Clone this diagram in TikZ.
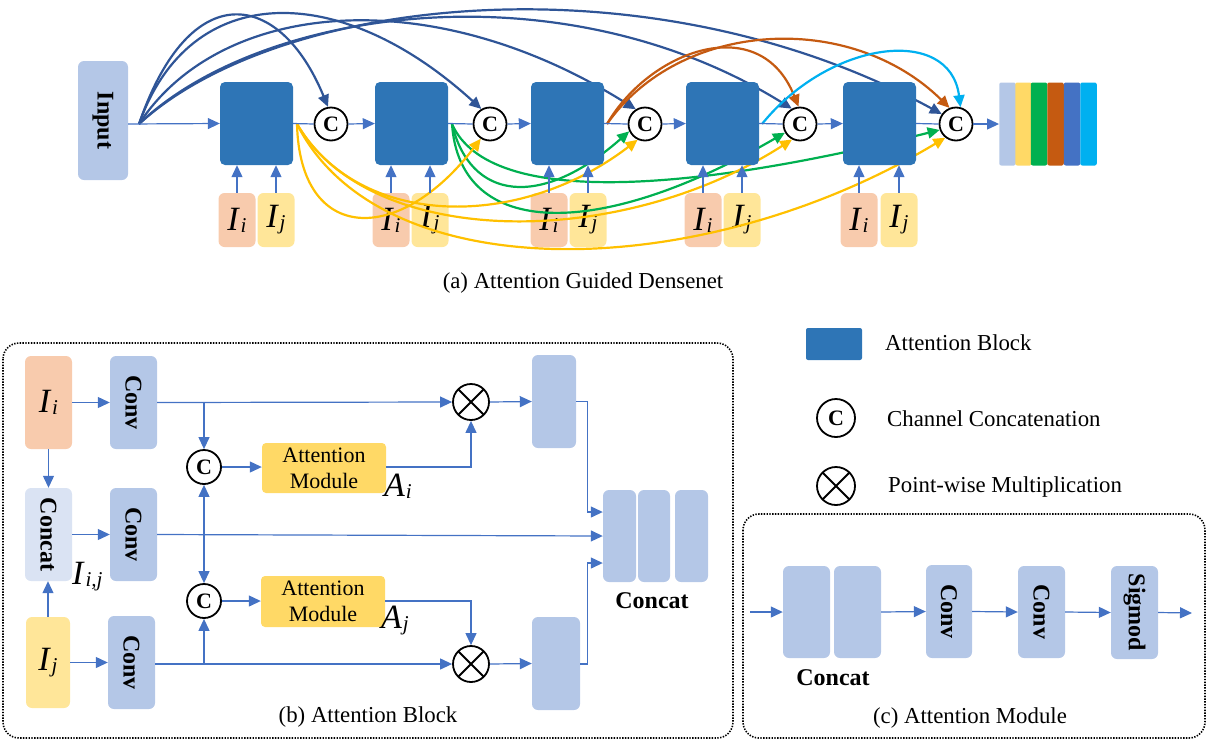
\documentclass[tikz,border=0pt]{standalone}
\usepackage{fontspec}
\usepackage{graphicx}
\setmainfont{Liberation Serif}
\usetikzlibrary{arrows.meta,calc}
\definecolor{blk}{HTML}{2E75B6}
\definecolor{lb}{HTML}{B4C7E7}
\definecolor{sal}{HTML}{F8CBAD}
\definecolor{ylw}{HTML}{FFE699}
\definecolor{gold}{HTML}{FFD966}
\definecolor{cb}{HTML}{DAE3F3}
\definecolor{ln}{HTML}{4472C4}
\definecolor{dkb}{HTML}{2F5597}
\definecolor{brn}{HTML}{C55A11}
\definecolor{grn}{HTML}{00B050}
\definecolor{cyn}{HTML}{00B0F0}
\definecolor{org}{HTML}{FFC000}
\newcommand{\Isb}[2]{\textit{#1}\kern0.02em\raisebox{-0.06em}{\scalebox{0.62}{\textit{#2}}}}
\begin{document}
\begin{tikzpicture}[x=1pt,y=-1pt,
  fbox/.style={rectangle, rounded corners=6pt, inner sep=0pt, draw=none},
  abk/.style={fbox, fill=blk, rounded corners=5pt, minimum width=73pt, minimum height=83pt},
  ibox/.style={fbox, fill=sal, minimum width=37pt, minimum height=54pt, font=\fontsize{34}{34}\selectfont},
  jbox/.style={fbox, fill=ylw, minimum width=37pt, minimum height=54pt, font=\fontsize{34}{34}\selectfont},
  ccirc/.style={circle, draw=black, line width=1.8pt, fill=white, minimum size=33pt, inner sep=0pt, font=\fontsize{22}{22}\selectfont\bfseries},
  mcirc/.style={circle, draw=black, line width=1.8pt, fill=white, minimum size=36pt, inner sep=0pt, path picture={\draw[black, line width=1.8pt] (path picture bounding box.north west) -- (path picture bounding box.south east) (path picture bounding box.north east) -- (path picture bounding box.south west);}},
  ar/.style={draw=ln, line width=1.2pt, -{Triangle[length=12pt,width=11pt]}},
  bline/.style={draw=ln, line width=1.2pt},
  cur/.style={line width=2.2pt, -{Triangle[length=12pt,width=11pt]}},
  boldlbl/.style={font=\fontsize{24}{24}\selectfont\bfseries},
  captxt/.style={font=\fontsize{22.8}{26}\selectfont},
  lbl/.style={font=\fontsize{34}{34}\selectfont, inner sep=0pt},
  amod/.style={fbox, fill=gold, rounded corners=4pt, minimum width=124pt, minimum height=50pt, align=center, font=\fontsize{22}{26}\selectfont},
  dotbox/.style={draw=black, line width=1.6pt, dash pattern=on 1.4pt off 1.4pt, rounded corners=16pt}
]
\useasboundingbox (0,0) rectangle (1207,745);

% ---------------- (a) ----------------
\node[fbox, fill=lb, minimum width=50pt, minimum height=119pt] (in) at (103,120.5) {\rotatebox{-90}{\fontsize{24}{24}\selectfont\bfseries Input}};

\foreach \n/\xi/\xj in {1/237/276, 2/391/430, 3/549/588, 4/703/742, 5/859/899}{
  \node[ibox] (i\n) at (\xi,220) {\Isb{I}{i}};
  \node[jbox] (j\n) at (\xj,220) {\Isb{I}{j}};
}

\coordinate (src) at (139,124);
\coordinate (o1) at (297,124);
\coordinate (o2) at (452,124);
\coordinate (o3) at (607,124);
\coordinate (o4) at (762,124);

\node[ccirc] (c1) at (331,124) {C};
\node[ccirc] (c2) at (490,124) {C};
\node[ccirc] (c3) at (645,124) {C};
\node[ccirc] (c4) at (800,124) {C};
\node[ccirc] (c5) at (956,124) {C};

% curves
\draw[cur, dkb] (src) .. controls (190,-25) and (280,-10) .. (c1.100);
\draw[cur, dkb] (src) .. controls (190,-20) and (340,-20) .. (c2.120);
\draw[cur, dkb] (src) .. controls (220,0) and (430,-20) .. (c3.122);
\draw[cur, dkb] (src) .. controls (260,8) and (560,-35) .. (c4.118);
\draw[cur, dkb] (src) .. controls (280,-5) and (650,-45) .. (c5.145);

\draw[cur, brn] (o3) .. controls (650,50) and (760,10) .. (c4.95);
\draw[cur, brn] (o3) .. controls (680,20) and (850,10) .. (c5.112);
\draw[cur, cyn] (o4) .. controls (830,40) and (950,25) .. (c5.75);

\draw[cur, grn] (o2) .. controls (470,200) and (540,210) .. (c3.205);
\draw[cur, grn] (o2) .. controls (460,240) and (600,240) .. (c4.210);
\draw[cur, grn] (o2) .. controls (490,210) and (700,190) .. (c5.200);

\draw[cur, org] (o1) .. controls (300,245) and (400,245) .. (c2.238);
\draw[cur, org] (o1) .. controls (360,230) and (520,230) .. (c3.245);
\draw[cur, org] (o1) .. controls (370,250) and (620,250) .. (c4.243);
\draw[cur, org] (o1) .. controls (380,290) and (700,285) .. (c5.232);

% blocks
\node[abk] (b1) at (256.5,123.5) {};
\node[abk] (b2) at (411.5,123.5) {};
\node[abk] (b3) at (567.5,123.5) {};
\node[abk] (b4) at (722.5,123.5) {};
\node[abk] (b5) at (879.5,123.5) {};

\foreach \n in {1,...,5}{
  \draw[ar] (i\n.north) -- (i\n.north |- b\n.south);
  \draw[ar] (j\n.north) -- (j\n.north |- b\n.south);
}

\draw[ar] (in.east |- src) -- (b1.west);
\draw[bline] (b1.east) -- (c1.west);
\draw[ar] (c1.east) -- (b2.west);
\draw[bline] (b2.east) -- (c2.west);
\draw[ar] (c2.east) -- (b3.west);
\draw[bline] (b3.east) -- (c3.west);
\draw[ar] (c3.east) -- (b4.west);
\draw[bline] (b4.east) -- (c4.west);
\draw[ar] (c4.east) -- (b5.west);
\draw[bline] (b5.east) -- (c5.west);

% output stack
\foreach \k/\xx/\cc in {1/1007.5/lb, 2/1023.5/gold, 3/1039/grn, 4/1055.5/brn, 5/1072/ln, 6/1088.5/cyn}{
  \node[fbox, rounded corners=2pt, fill=\cc, minimum width=16.5pt, minimum height=83pt] (s\k) at (\xx,124) {};
}
\draw[ar] (c5.east) -- (s1.west);

\node[captxt] (capa) at (583,283) {(a) Attention Guided Densenet};

% ---------------- (b) ----------------
\draw[dotbox] (3,343) rectangle (733,738);
\node[fbox, fill=sal, minimum width=47pt, minimum height=93pt, lbl] (bi) at (48.5,402.5) {\Isb{I}{i}};
\node[fbox, fill=cb, minimum width=47pt, minimum height=93pt] (bcat) at (48.5,534.5) {\rotatebox{-90}{\fontsize{24}{24}\selectfont\bfseries Concat}};
\node[fbox, fill=ylw, minimum width=44pt, minimum height=91pt, lbl] (bj) at (48,662.5) {\Isb{I}{j}};
\node[lbl, anchor=west] (lij) at (72,577) {\Isb{I}{i,j}};

\node[fbox, fill=lb, minimum width=47pt, minimum height=93pt] (cv1) at (133.5,402.5) {\rotatebox{-90}{\fontsize{24}{24}\selectfont\bfseries Conv}};
\node[fbox, fill=lb, minimum width=47pt, minimum height=93pt] (cv2) at (133.5,534.5) {\rotatebox{-90}{\fontsize{24}{24}\selectfont\bfseries Conv}};
\node[fbox, fill=lb, minimum width=47pt, minimum height=93pt] (cv3) at (131.5,662.5) {\rotatebox{-90}{\fontsize{24}{24}\selectfont\bfseries Conv}};

\node[ccirc, minimum size=34pt] (cc1) at (204,467) {C};
\node[ccirc, minimum size=34pt] (cc2) at (204,601) {C};
\node[amod] (am1) at (324,468) {Attention\\Module};
\node[amod, minimum height=51pt] (am2) at (323,601.5) {Attention\\Module};
\node[lbl, anchor=north west] (lai) at (384,474) {\Isb{A}{i}};
\node[lbl, anchor=north west] (laj) at (381,606) {\Isb{A}{j}};

\node[mcirc] (m1) at (471,402) {};
\node[mcirc] (m2) at (471,664) {};
\node[fbox, fill=lb, minimum width=44pt, minimum height=93pt] (f1) at (554,401.5) {};
\node[fbox, fill=lb, minimum width=48pt, minimum height=93pt] (f2) at (556,663.5) {};
\node[fbox, fill=lb, minimum width=33pt, minimum height=92pt] (k1) at (619.5,536) {};
\node[fbox, fill=lb, minimum width=32pt, minimum height=92pt] (k2) at (654,536) {};
\node[fbox, fill=lb, minimum width=33pt, minimum height=92pt] (k3) at (691.5,536) {};
\node[boldlbl] (lcat) at (652,601) {Concat};

\draw[ar] (bi.east) -- (cv1.west);
\draw[ar] (bi.south) -- (bcat.north);
\draw[ar] (bj.north) -- (bj.north |- bcat.south);
\draw[ar] (bcat.east) -- (cv2.west);
\draw[ar] (bj.east) -- (bj.east -| cv3.west);
\draw[ar] (cv1.east) -- (m1.west);
\draw[ar] (cv1.east -| cc1) -- (cc1.north);
\draw[ar] (cc1.east) -- (am1.west |- cc1);
\draw[ar] (am1.east |- cc1) -| (m1.south);
\draw[ar] (m1.east) -- (f1.west);
\draw[ar] (f1.east) -- ++(11,0) |- ($(k1.west)+(0,-24)$);
\draw[ar] (cv2.east) -- (k1.west);
\draw[bline, {Triangle[length=12pt,width=11pt]}-{Triangle[length=12pt,width=11pt]}] (cc1.south) -- (cc2.north);
\draw[ar] (cv3.east |- m2) -- (m2.west);
\draw[ar] (cc2 |- m2) -- (cc2.south);
\draw[ar] (cc2.east) -- (am2.west |- cc2);
\draw[ar] (am2.east |- cc2) -| (m2.north);
\draw[ar] (m2.east) -- (f2.west);
\draw[ar] (f2.east |- m2) -- ++(7,0) |- ($(k1.west)+(0,27)$);

\node[captxt] (capb) at (368,717) {(b) Attention Block};

% ---------------- legend ----------------
\node[fbox, fill=blk, rounded corners=2pt, minimum width=56pt, minimum height=32pt] (lg1) at (834,344) {};
\node[captxt, anchor=west, inner sep=0pt] (lt1) at (885,343) {Attention Block};
\node[ccirc, minimum size=38pt] (lg2) at (836,418) {C};
\node[captxt, anchor=west, inner sep=0pt] (lt2) at (887,419) {Channel Concatenation};
\node[mcirc, minimum size=38pt] (lg3) at (836,486) {};
\node[captxt, anchor=west, inner sep=0pt] (lt3) at (888,487) {Point-wise Multiplication};

% ---------------- (c) ----------------
\draw[dotbox] (743,514) rectangle (1205,738);
\node[fbox, fill=lb, minimum width=47pt, minimum height=92pt] (p1) at (806.5,612) {};
\node[fbox, fill=lb, minimum width=47pt, minimum height=92pt] (p2) at (857.5,612) {};
\node[boldlbl] (lcat2) at (833,678) {Concat};
\node[fbox, fill=lb, minimum width=46pt, minimum height=93pt] (cv4) at (949,611.5) {\rotatebox{-90}{\fontsize{24}{24}\selectfont\bfseries Conv}};
\node[fbox, fill=lb, minimum width=47pt, minimum height=92pt] (cv5) at (1041.5,612) {\rotatebox{-90}{\fontsize{24}{24}\selectfont\bfseries Conv}};
\node[fbox, fill=lb, minimum width=47pt, minimum height=93pt] (sg) at (1134.5,612.5) {\rotatebox{-90}{\fontsize{24}{24}\selectfont\bfseries Sigmod}};
\coordinate (cin) at (750,612);
\coordinate (cout) at (1192,613);
\draw[ar] (cin) -- (p1.west);
\draw[ar] (p2.east) -- (cv4.west);
\draw[ar] (cv4.east) -- (cv5.west);
\draw[ar] (cv5.east) -- (sg.west);
\draw[ar] (sg.east) -- (cout);
\node[captxt] (capc) at (970,718) {(c) Attention Module};
\end{tikzpicture}
\end{document}
